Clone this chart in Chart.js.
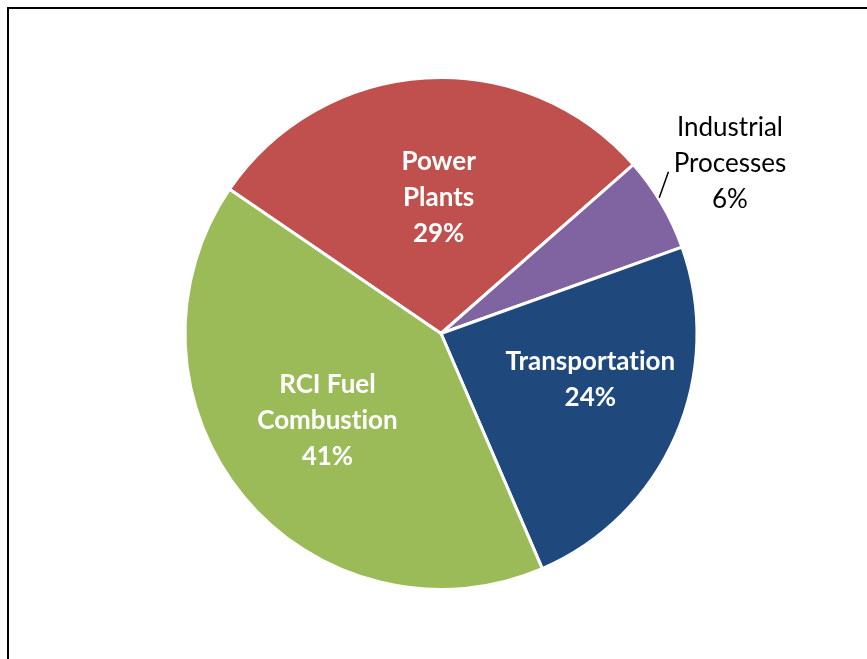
<!DOCTYPE html>
<html>
<head>
<meta charset="utf-8">
<script src="https://cdn.jsdelivr.net/npm/chart.js@4"></script>
<style>
  html, body { margin: 0; padding: 0; background: #fff; overflow: hidden; }
  #wrap { position: relative; width: 867px; height: 659px; }
  #frame { position: absolute; left: 7px; top: 7px; width: 900px; height: 700px; border: 2px solid #000; box-sizing: border-box; }
  canvas { position: absolute; left: 0; top: 0; font-variant-ligatures: none; }
</style>
</head>
<body>
<div id="wrap">
  <div id="frame"></div>
  <canvas id="c" width="867" height="659"></canvas>
</div>
<script>
const categories = [["Power", "Plants"], ["Industrial", "Processes"], ["Transportation"], ["RCI Fuel", "Combustion"]];
const shares = [29, 6, 24, 41];
const colors = ["#C0504D", "#8064A2", "#1F497D", "#9BBB59"];

// label placement: angle offset from slice middle (deg), radius fraction, inside?
const labelPlacement = [
  { dAng: 2.5, frac: 0.53, inside: true },
  { dAng: 0, frac: 1.31, inside: false },
  { dAng: -6.5, frac: 0.61, inside: true },
  { dAng: 1.9, frac: 0.56, inside: true }
];
// leader line for the outside label: [angle offset (deg), radius fraction] for both ends
const leader = [[-1.4, 1.004], [-4.9, 1.09]];

const labelPlugin = {
  id: 'sliceLabels',
  afterDatasetsDraw(chart) {
    const ctx = chart.ctx;
    const meta = chart.getDatasetMeta(0);
    const lineH = 36;
    const D = Math.PI / 180;
    meta.data.forEach((arc, i) => {
      const p = labelPlacement[i];
      const base = (arc.startAngle + arc.endAngle) / 2;
      const mid = base + p.dAng * D;
      const r = arc.outerRadius * p.frac;
      const cx = arc.x + Math.cos(mid) * r;
      const cy = arc.y + Math.sin(mid) * r;
      const lines = categories[i].concat([shares[i] + '%']);
      ctx.save();
      ctx.textAlign = 'center';
      ctx.textBaseline = 'middle';
      if ('textRendering' in ctx) ctx.textRendering = 'optimizeSpeed';
      ctx.fillStyle = p.inside ? '#FFFFFF' : '#000000';
      ctx.font = (p.inside ? 'bold ' : '') + '26px Lato, "Open Sans", sans-serif';
      const top = cy - (lines.length - 1) * lineH / 2;
      lines.forEach((t, k) => ctx.fillText(t, cx, top + k * lineH));
      if (!p.inside) {
        ctx.strokeStyle = '#000';
        ctx.lineWidth = 1.5;
        ctx.beginPath();
        leader.forEach(([da, f], k) => {
          const a = base + da * D, rr = arc.outerRadius * f;
          const x = arc.x + Math.cos(a) * rr, y = arc.y + Math.sin(a) * rr;
          if (k === 0) ctx.moveTo(x, y); else ctx.lineTo(x, y);
        });
        ctx.stroke();
      }
      ctx.restore();
    });
  }
};

new Chart(document.getElementById('c'), {
  type: 'pie',
  data: {
    labels: categories.map(c => c.join(' ')),
    datasets: [{
      data: shares,
      backgroundColor: colors,
      borderColor: '#FFFFFF',
      borderWidth: 3
    }]
  },
  options: {
    responsive: false,
    animation: false,
    rotation: -55.7,
    radius: 256,
    layout: { padding: { left: 15, right: 0, top: 8, bottom: 0 } },
    plugins: {
      legend: { display: false },
      tooltip: { enabled: false },
      title: { display: false }
    }
  },
  plugins: [labelPlugin]
});
</script>
</body>
</html>
